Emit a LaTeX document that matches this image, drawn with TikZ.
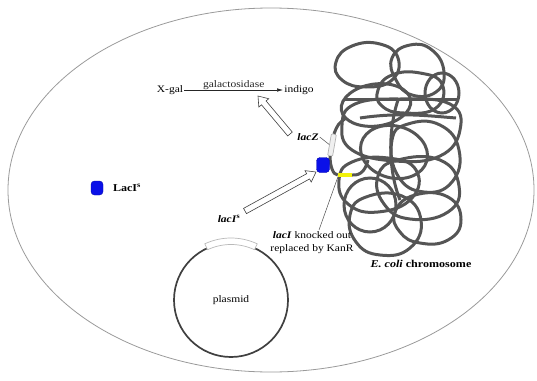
\documentclass[tikz,border=0pt]{standalone}
\usepackage{fontspec}
\setmainfont{Liberation Serif}[FakeStretch=1.15]
\usetikzlibrary{calc,arrows.meta}

\definecolor{chromgray}{HTML}{555555}
\definecolor{cellgray}{HTML}{9A9A9A}
\definecolor{protblue}{HTML}{0A10E8}
\definecolor{kanyellow}{HTML}{F2F20A}

\tikzset{
  chrom/.style={draw=chromgray, line width=3pt},
  protein/.style={draw=protblue!75!black, fill=protblue, rounded corners=3.5pt,
                  minimum width=12pt, minimum height=14pt, inner sep=0pt},
  lbl/.style={font=\fontsize{10}{13}\selectfont, inner sep=1pt},
  genebox/.style={draw=gray!60, fill=gray!12, line width=0.7pt, rounded corners=1pt,
                  minimum width=5pt, minimum height=22pt, inner sep=0pt},
  kanbox/.style={fill=kanyellow, minimum width=14pt, minimum height=4pt, inner sep=0pt},
  hollowline/.style={draw=black!75, line width=0.6pt, fill=white, line join=miter},
  leader/.style={draw=black!70, line width=0.5pt},
}

% open block arrow from #1 to #2
\newcommand\hollowarrow[2]{%
  \coordinate (ha-h) at ($(#2)!9pt!(#1)$);
  \draw[hollowline] ($(#1)!3pt!90:(#2)$) -- ($(ha-h)!3pt!-90:(#1)$)
    -- ($(ha-h)!6.5pt!-90:(#1)$) -- (#2) -- ($(ha-h)!6.5pt!90:(#1)$)
    -- ($(ha-h)!3pt!90:(#1)$) -- ($(#1)!3pt!-90:(#2)$) -- cycle;}

\begin{document}
\begin{tikzpicture}[x=1pt, y=-1pt]
\useasboundingbox (0,0) rectangle (537,380);

% cell outline
\draw[cellgray, line width=0.8pt] (271,190) ellipse[x radius=263, y radius=182];

% chromosome: tangled loops
\draw[chrom] plot[smooth cycle, tension=0.8] coordinates
  {(336,62) (352,46) (380,44) (398,58) (392,80) (366,87) (342,80)};
\draw[chrom] plot[smooth cycle, tension=0.8] coordinates
  {(392,58) (410,45) (432,50) (444,72) (436,92) (412,95) (396,80)};
\draw[chrom] (442,93) ellipse[x radius=17, y radius=20];
\draw[chrom] plot[smooth cycle, tension=0.8] coordinates
  {(378,90) (392,75) (420,73) (442,84) (436,108) (404,113) (382,106)};
\draw[chrom, rotate around={8:(376,105)}] (376,105) ellipse[x radius=35, y radius=21];
\draw[chrom] plot[smooth cycle, tension=0.75] coordinates
  {(342,125) (355,104) (400,99) (450,104) (460,130) (440,156) (395,161) (352,150)};
\draw[chrom] plot[smooth cycle, tension=0.8] coordinates
  {(392,140) (408,124) (440,125) (459,150) (452,182) (424,192) (398,176)};
\draw[chrom, rotate around={-15:(394,152)}] (394,152) ellipse[x radius=34, y radius=26];
\draw[chrom] plot[smooth cycle, tension=0.8] coordinates
  {(339,180) (352,162) (388,158) (416,170) (412,198) (378,212) (348,204)};
\draw[chrom] plot[smooth cycle, tension=0.8] coordinates
  {(378,176) (398,160) (440,160) (459,186) (448,212) (410,219) (384,204)};
\draw[chrom] (370,205) ellipse[x radius=26, y radius=27];
\draw[chrom] plot[smooth cycle, tension=0.8] coordinates
  {(350,215) (366,197) (402,196) (421,220) (410,248) (380,255) (356,242)};
\draw[chrom] plot[smooth cycle, tension=0.8] coordinates
  {(395,212) (415,195) (448,197) (461,220) (448,240) (420,243) (400,232)};
\draw[chrom] (345,99) -- (458,99);
\draw[chrom] (360,118) .. controls (400,112) and (430,116) .. (456,118);
\draw[chrom] (398,100) .. controls (388,130) and (388,170) .. (400,200);

% lacZ gene and the knocked-out lacI site on the chromosome
\node[genebox, rotate=-10] (lacZgene) at (332,145) {};
\node[kanbox] (kanR) at (345,175) {};
\draw[chrom] (346,118) .. controls (338,124) .. (lacZgene.north);
\draw[chrom] (lacZgene.south) .. controls (330,166) and (333,175) .. (kanR.west);
\draw[chrom] (kanR.east) .. controls (362,176) and (366,168) .. (368,160);
\node[kanbox] at (kanR) {};

% plasmid with its lacI^s gene
\node[circle, draw=black!75, line width=1.7pt, minimum size=114pt, lbl] (plasmid) at (231,300) {plasmid};
\draw[draw=gray!55, fill=white, line width=0.7pt]
  ([shift={(115:62pt)}]plasmid.center) arc[start angle=115, end angle=65, radius=62pt]
  -- ([shift={(65:55.5pt)}]plasmid.center) arc[start angle=65, end angle=115, radius=55.5pt] -- cycle;
\node[lbl] (lacIs) at (229,219) {\textbf{\textit{lacI}\textsuperscript{s}}};

% repressor proteins
\node[protein] (free) at (97,188) {};
\node[lbl, font=\fontsize{10.5}{12}\selectfont] (freelbl) at (127,188) {\textbf{LacI\textsuperscript{s}}};
\node[protein, minimum width=13pt, minimum height=15pt] (bound) at (323,165) {};

% X-gal reaction
\node[lbl] (xgal) at (170,90) {X-gal};
\node[lbl] (indigo) at (299,90) {indigo};
\draw[black!85, line width=0.6pt, -{Latex[length=6pt, width=3.5pt]}] (xgal) -- (indigo)
  node[midway, above, lbl, yshift=-1pt] (enz) {galactosidase};

% labels on the chromosome
\node[lbl] (lacZ) at (308,137) {\textbf{\textit{lacZ}}};
\draw[leader] (lacZ.east) -- (lacZgene.west);
\node[lbl, align=center] (kolbl) at (312,243) {\textbf{\textit{lacI}} knocked out\\replaced by KanR};
\coordinate (koend) at (319,230);
\draw[leader] (kanR.south west) -- (koend);
\node[lbl, font=\fontsize{10.5}{12}\selectfont] (ecoli) at (421,264) {\textbf{\textit{E. coli}} \textbf{chromosome}};

% expression arrows
\coordinate (a1tail) at (245,211);
\coordinate (a1tip) at (316,172);
\hollowarrow{a1tail}{a1tip}
\coordinate (a2tail) at (290,134);
\coordinate (a2tip) at (258,96);
\hollowarrow{a2tail}{a2tip}
\end{tikzpicture}
\end{document}
